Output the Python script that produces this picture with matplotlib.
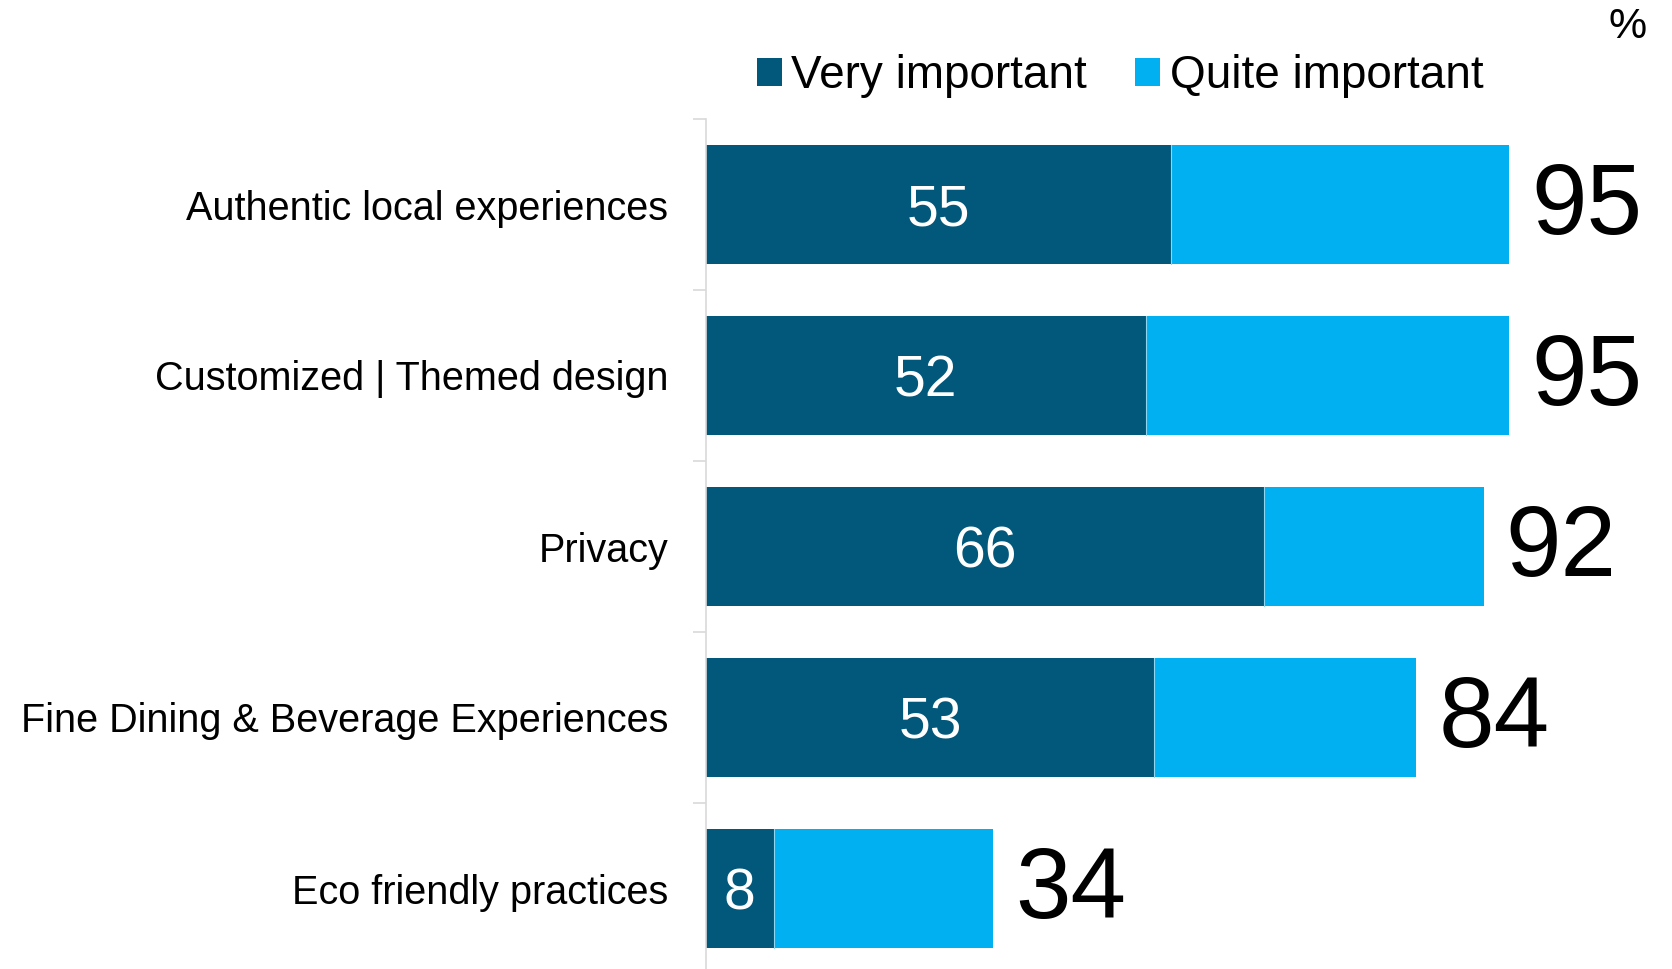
import matplotlib
matplotlib.use("Agg")
import matplotlib.pyplot as plt
from matplotlib.patches import Patch

# ── Data ──────────────────────────────────────────────────────────────────────
categories = ["Authentic local experiences", "Customized | Themed design",
              "Privacy", "Fine Dining & Beverage Experiences",
              "Eco friendly practices"]
very_important = [55, 52, 66, 53, 8]
totals = [95, 95, 92, 84, 34]
quite_important = [t - v for t, v in zip(totals, very_important)]

DARK = "#02587A"
LIGHT = "#00B0F0"

plt.rcParams["font.family"] = ["Liberation Sans", "DejaVu Sans"]

fig = plt.figure(figsize=(16.72, 9.69), dpi=100)
# axis spans pixel x 706 .. and y 119 .. 974 (figure 969 tall)
ax = fig.add_axes([706 / 1672, -5 / 969, 930 / 1672, 855 / 969])

y = list(range(len(categories)))
ax.barh(y, very_important, height=0.70, color=DARK, edgecolor="none")
ax.barh(y, quite_important, left=very_important, height=0.70, color=LIGHT,
        edgecolor="none")
# thin separator between segments
for yi, v in zip(y, very_important):
    ax.plot([v, v], [yi - 0.35, yi + 0.35], color="#8fd6f0", lw=0.8)

for yi, v, t in zip(y, very_important, totals):
    ax.text(v / 2, yi + 0.035, str(v), ha="center", va="center", color="white",
            fontsize=41)
    ax.text(t + 2.6, yi + 0.02, str(t), ha="left", va="center", color="black",
            fontsize=72, clip_on=False)

ax.set_xlim(0, 110)
ax.set_ylim(len(categories) - 0.5, -0.5)

ax.set_yticks(y)
ax.set_yticklabels(categories, fontsize=28.5)
ax.tick_params(axis="y", which="major", length=0, pad=27)
ax.set_yticks([i - 0.5 for i in range(len(categories))], minor=True)
ax.tick_params(axis="y", which="minor", length=9.5, width=1.2, color="#d9d9d9")
ax.set_xticks([])

for s in ["top", "right", "bottom"]:
    ax.spines[s].set_visible(False)
ax.spines["left"].set_color("#d9d9d9")
ax.spines["left"].set_linewidth(1.2)

handles = [Patch(facecolor=DARK, label="Very important"),
           Patch(facecolor=LIGHT, label="Quite important")]
fig.legend(handles=handles, loc="center", bbox_to_anchor=(1120 / 1672, 1 - 76 / 969),
           ncol=2, frameon=False, prop={"size": 33},
           handlelength=0.55, handleheight=0.55, handletextpad=0.2,
           columnspacing=1.05)

fig.text(1628 / 1672, 1 - 27 / 969, "%", ha="center", va="center", fontsize=31)

fig.savefig("out.png", dpi=100)
